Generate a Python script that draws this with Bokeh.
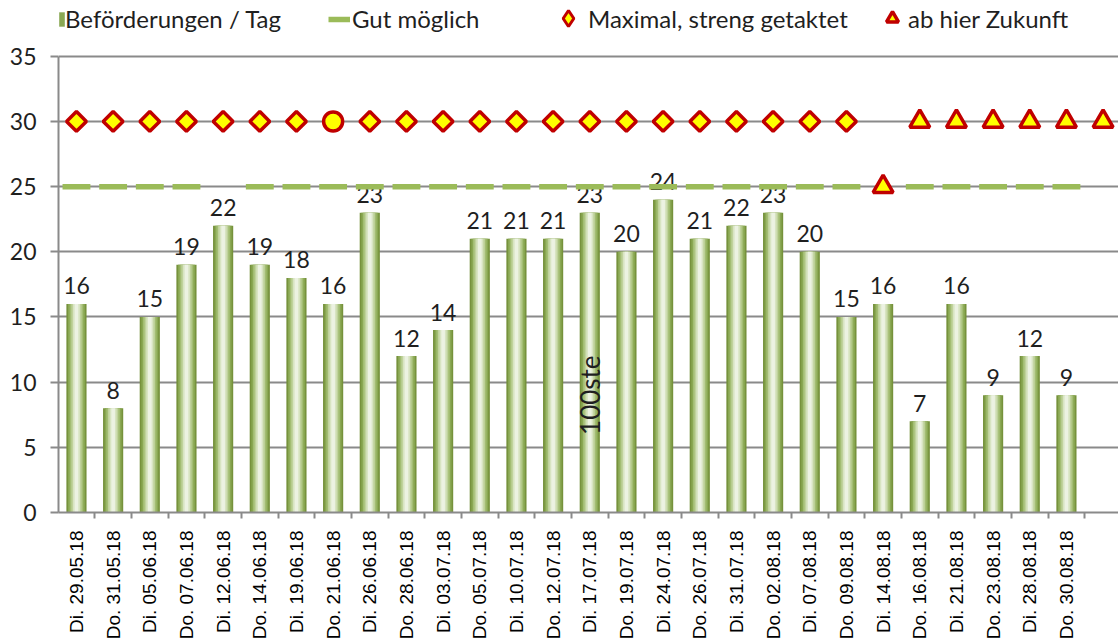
import math
from bokeh.plotting import figure
from bokeh.models import Range1d, FixedTicker, Legend, LegendItem, ColumnDataSource
from bokeh.core.properties import value
from bokeh.embed import file_html
from bokeh.resources import INLINE

# ---------------- data ----------------
dates = ["Di. 29.05.18", "Do. 31.05.18", "Di. 05.06.18", "Do. 07.06.18",
         "Di. 12.06.18", "Do. 14.06.18", "Di. 19.06.18", "Do. 21.06.18",
         "Di. 26.06.18", "Do. 28.06.18", "Di. 03.07.18", "Do. 05.07.18",
         "Di. 10.07.18", "Do. 12.07.18", "Di. 17.07.18", "Do. 19.07.18",
         "Di. 24.07.18", "Do. 26.07.18", "Di. 31.07.18", "Do. 02.08.18",
         "Di. 07.08.18", "Do. 09.08.18", "Di. 14.08.18", "Do. 16.08.18",
         "Di. 21.08.18", "Do. 23.08.18", "Di. 28.08.18", "Do. 30.08.18"]
trips = [16, 8, 15, 19, 22, 19, 18, 16, 23, 12, 14, 21, 21, 21,
         23, 20, 24, 21, 22, 23, 20, 15, 16, 7, 16, 9, 12, 9]

good_idx = [0, 1, 2, 3, 5, 6, 7, 8, 9, 10, 11, 12, 13, 14, 15, 16, 17,
            18, 19, 20, 21, 23, 24, 25, 26, 27]
good_val = [25] * len(good_idx)

max_idx = [0, 1, 2, 3, 4, 5, 6, 8, 9, 10, 11, 12, 13, 14, 15, 16, 17,
           18, 19, 20, 21]
max_val = [30] * len(max_idx)

special_idx = [7]
special_val = [30]

future_idx = [22, 23, 24, 25, 26, 27, 28]
future_val = [25, 30, 30, 30, 30, 30, 30]

note_idx = [14]
note_val = [9]
note_text = ["100ste"]

y_ticks = [0, 5, 10, 15, 20, 25, 30, 35]

# ---------------- figure ----------------
TXT = "#1f1f1f"
GRID = "#8a8a8a"
FONT = "Lato"
RED = "#c00000"
YEL = "#ffff00"

p = figure(width=1118, height=642, output_backend="svg", toolbar_location=None,
           x_range=Range1d(-0.49, 28.42), y_range=Range1d(0, 39.28))
p.min_border_left = 58
p.min_border_right = 0
p.min_border_top = 0
p.min_border_bottom = 128
p.outline_line_color = None
p.background_fill_color = "white"
p.border_fill_color = "white"

p.xgrid.visible = False
p.ygrid.ticker = FixedTicker(ticks=y_ticks[1:])
p.ygrid.grid_line_color = GRID
p.ygrid.grid_line_width = 2

# y axis
p.yaxis.ticker = FixedTicker(ticks=y_ticks)
p.yaxis.bounds = (y_ticks[0], y_ticks[-1])
p.yaxis.axis_line_color = GRID
p.yaxis.axis_line_width = 2
p.yaxis.major_tick_line_color = GRID
p.yaxis.major_tick_line_width = 2
p.yaxis.major_tick_out = 8
p.yaxis.major_tick_in = 0
p.yaxis.minor_tick_line_color = None
p.yaxis.major_label_standoff = 14
p.yaxis.major_label_text_font = FONT
p.yaxis.major_label_text_font_size = "23px"
p.yaxis.major_label_text_color = TXT

# x axis
xt = list(range(len(dates)))
p.xaxis.ticker = FixedTicker(ticks=xt, minor_ticks=[i - 0.5 for i in range(len(dates) + 1)])
p.xaxis.major_label_overrides = {i: d for i, d in enumerate(dates)}
p.xaxis.major_label_orientation = math.pi / 2
p.xaxis.axis_line_color = GRID
p.xaxis.axis_line_width = 2
p.xaxis.major_tick_line_color = None
p.xaxis.major_tick_out = 0
p.xaxis.major_tick_in = 0
p.xaxis.minor_tick_line_color = GRID
p.xaxis.minor_tick_line_width = 2
p.xaxis.minor_tick_out = 6
p.xaxis.minor_tick_in = 0
p.xaxis.major_label_standoff = 12
p.xaxis.major_label_text_font = "Liberation Sans"
p.xaxis.major_label_text_font_size = "19px"
p.xaxis.major_label_text_color = "black"

# bars with a simulated horizontal gradient (layers of narrowing bars)
bar_src = ColumnDataSource(dict(x=xt, top=trips, lab=[str(v) for v in trips]))
layers = [(0.55, "#76923c"), (0.46, "#8aa853"), (0.37, "#a3bd73"),
          (0.28, "#bfd29b"), (0.19, "#d8e4c2"), (0.10, "#ecf2e2")]
bar_renderers = []
for w, c in layers:
    r = p.vbar(x="x", top="top", width=w, bottom=0, source=bar_src,
               fill_color=c, line_color=None)
    bar_renderers.append(r)

# value labels
p.text(x="x", y="top", text="lab", source=bar_src, text_align="center",
       text_baseline="alphabetic", y_offset=-18, text_font=value(FONT),
       text_font_size="23px", text_color=TXT)

# "Gut möglich" dashes
g_src = ColumnDataSource(dict(x0=[i - 0.38 for i in good_idx],
                              x1=[i + 0.38 for i in good_idx], y=good_val))
r_good = p.segment(x0="x0", y0="y", x1="x1", y1="y", source=g_src,
                   line_color="#9bbb59", line_width=5.5, line_cap="butt")

# small diamond glyph (hidden under the rotated squares) used for the legend swatch
r_max_leg = p.scatter(x=max_idx, y=max_val, marker="diamond", size=8,
                      fill_color=YEL, line_color=RED, line_width=3)
# Maximal diamonds (rotated squares)
p.scatter(x=max_idx, y=max_val, marker="square", angle=math.pi / 4,
          size=14, fill_color=YEL, line_color=RED, line_width=3.5)
# special circle
p.scatter(x=special_idx, y=special_val, marker="circle", size=19,
          fill_color=YEL, line_color=RED, line_width=3.5)
# future triangles
r_fut = p.scatter(x=future_idx, y=future_val, marker="triangle", size=20,
                  fill_color=YEL, line_color=RED, line_width=3.5)

# note text
p.text(x=note_idx, y=note_val, text=note_text, angle=math.pi / 2,
       text_align="center", text_baseline="middle", text_font=value(FONT),
       text_font_size="26px", text_color=TXT)

# legends (one per entry to mimic spacing)
def add_legend(label, rends, fx, vy, gw, gh, standoff):
    lg = Legend(items=[LegendItem(label=label, renderers=rends)],
                location=(fx, vy), orientation="horizontal",
                glyph_width=gw, glyph_height=gh, label_height=gh,
                label_standoff=standoff, padding=0, margin=0, spacing=0,
                border_line_alpha=0, background_fill_alpha=0,
                label_text_font=FONT, label_text_font_size="24px",
                label_text_color=TXT, label_text_baseline="middle")
    p.add_layout(lg, "center")

add_legend("Beförderungen / Tag", [bar_renderers[1]], 0, 479, 7, 18, 0)
add_legend("Gut möglich", [r_good], 270, 479, 22, 18, 2)
add_legend("Maximal, streng getaktet", [r_max_leg], 490, 474, 40, 40, 0)
add_legend("ab hier Zukunft", [r_fut], 819, 479, 30, 30, 1)

open("out.html", "w").write(file_html(p, INLINE))
